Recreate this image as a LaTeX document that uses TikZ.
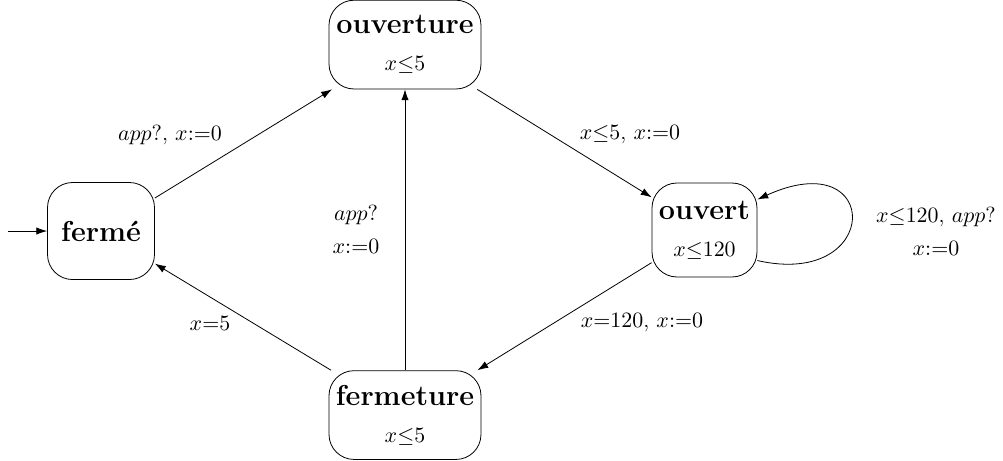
\documentclass[tikz,border=0pt]{standalone}
\usepackage{amsmath,amssymb}
\usepackage{tikz}
\usetikzlibrary{arrows.meta,positioning}

\begin{document}
\begin{tikzpicture}[>={Latex[length=1.9mm,width=1.3mm]},
    etat/.style={draw,rounded corners=4.4mm,align=center,inner sep=0pt,font=\fontsize{11}{13.6}\selectfont},
    garde/.style={align=center,font=\fontsize{11}{13.6}\selectfont}]
    \useasboundingbox (0,0) rectangle (17.626,8.084);
    % etats
    \node[etat,minimum width=1.88cm,minimum height=1.705cm] (ferme) at (1.775,4.024) {\Large\bfseries fermé};
    \node[etat,minimum width=2.671cm,minimum height=1.56cm] (ouverture) at (7.117,7.30) {{\Large\bfseries ouverture}\\[5pt]$x{\leq}5$};
    \node[etat,minimum width=1.845cm,minimum height=1.652cm] (ouvert) at (12.38,4.042) {{\Large\bfseries ouvert}\\[5pt]$x{\leq}120$};
    \node[etat,minimum width=2.671cm,minimum height=1.56cm] (fermeture) at (7.117,0.79) {{\Large\bfseries fermeture}\\[5pt]$x{\leq}5$};
    \coordinate (init) at (0.141,4.024);
    % transitions
    \draw[->](init)--(ferme.west);
    \draw[->](ferme)--(ouverture);
    \draw[->](ouverture)--(ouvert);
    \draw[->](ouvert)--(fermeture);
    \draw[->](fermeture)--(ferme);
    \draw[->](fermeture)--(ouverture);
    \draw[->](ouvert.-30) .. controls +(2.2,-0.5) and +(2.2,1.0) .. (ouvert.30);
    % gardes et remises a zero
    \node[garde] (lab1) at (2.987,5.711) {$app?$, $x{:=}0$};
    \node[garde] (lab2) at (11.071,5.711) {$x{\leq}5$, $x{:=}0$};
    \node[garde] (lab3) at (6.256,4.059) {$app?$\\[3pt]$x{:=}0$};
    \node[garde] (lab4) at (16.448,4.024) {$x{\leq}120$, $app?$\\[3pt]$x{:=}0$};
    \node[garde] (lab5) at (3.69,2.408) {$x{=}5$};
    \node[garde] (lab6) at (11.282,2.408) {$x{=}120$, $x{:=}0$};
\end{tikzpicture}
\end{document}
